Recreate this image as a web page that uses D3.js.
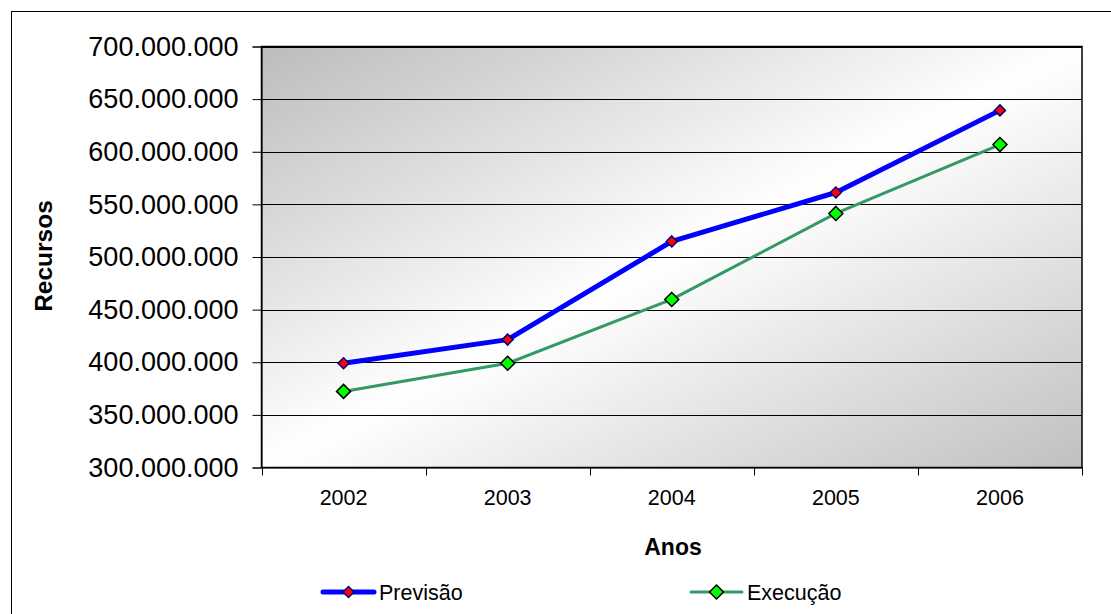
<!DOCTYPE html>
<html>
<head>
<meta charset="utf-8">
<script src="https://cdn.jsdelivr.net/npm/d3@7"></script>
<style>
  html, body { margin: 0; padding: 0; background: #fff; }
  svg { display: block; font-family: "Liberation Sans", Arial, sans-serif; }
</style>
</head>
<body>
<svg id="chart" width="1111" height="614"></svg>
<script>
// Anos (categorias do eixo X)
const anos = ["2002", "2003", "2004", "2005", "2006"];
// Recursos previstos e executados por ano
const previsao = [399000000, 421500000, 514800000, 561300000, 639300000];
const execucao = [372300000, 399000000, 459700000, 541400000, 606800000];
// Marcas do eixo Y
const yTicks = [300000000, 350000000, 400000000, 450000000, 500000000,
                550000000, 600000000, 650000000, 700000000];

const svg = d3.select("#chart");
const plot = { left: 261.5, right: 1082, top: 46.5, bottom: 467.5 };

const fmt = v => d3.format(",")(v).replace(/,/g, ".");

const x = d3.scaleBand().domain(anos).range([plot.left, plot.right]);
const y = d3.scaleLinear().domain([300000000, 700000000]).range([plot.bottom, plot.top]);

// Moldura externa
svg.append("rect")
  .attr("x", 11.5).attr("y", 11.5)
  .attr("width", 1140).attr("height", 640)
  .attr("fill", "none").attr("stroke", "#000").attr("stroke-width", 1);

// Fundo da área de plotagem em degradê diagonal
const defs = svg.append("defs");
const grad = defs.append("linearGradient")
  .attr("id", "fundo").attr("x1", "0").attr("y1", "0").attr("x2", "1").attr("y2", "1");
grad.append("stop").attr("offset", "0").attr("stop-color", "#bcbcbc");
grad.append("stop").attr("offset", "0.5").attr("stop-color", "#ffffff");
grad.append("stop").attr("offset", "1").attr("stop-color", "#c0c0c0");

svg.append("rect")
  .attr("x", plot.left).attr("y", plot.top)
  .attr("width", plot.right - plot.left).attr("height", plot.bottom - plot.top)
  .attr("fill", "url(#fundo)")
  .attr("stroke", "#000").attr("stroke-width", 1.5);

// Linhas de grade
svg.append("g").selectAll("line")
  .data(yTicks.slice(1))
  .join("line")
  .attr("x1", plot.left).attr("x2", plot.right)
  .attr("y1", d => Math.round(y(d)) + 0.5).attr("y2", d => Math.round(y(d)) + 0.5)
  .attr("stroke", "#000").attr("stroke-width", 1);

// Eixo Y
const yAxis = svg.append("g")
  .attr("transform", `translate(${plot.left},0)`)
  .call(d3.axisLeft(y).tickValues(yTicks).tickFormat(fmt).tickSize(9).tickPadding(14));
yAxis.select(".domain").attr("stroke", "#000");
yAxis.selectAll(".tick line").attr("stroke", "#000");
yAxis.selectAll(".tick text")
  .attr("font-size", 27).attr("fill", "#000")
  .attr("font-family", "Liberation Sans, Arial, sans-serif");

// Eixo X
const xAxis = svg.append("g")
  .attr("transform", `translate(0,${plot.bottom})`)
  .call(d3.axisBottom(x).tickSize(0).tickPadding(22));
xAxis.select(".domain").attr("stroke", "#000");
xAxis.selectAll(".tick text")
  .attr("font-size", 21.5).attr("fill", "#000")
  .attr("font-family", "Liberation Sans, Arial, sans-serif");
// Marcas entre as categorias
const bounds = anos.map(a => x(a)).concat([plot.right]);
svg.append("g").selectAll("line")
  .data(bounds)
  .join("line")
  .attr("x1", d => Math.round(d) + 0.5).attr("x2", d => Math.round(d) + 0.5)
  .attr("y1", plot.bottom).attr("y2", plot.bottom + 8)
  .attr("stroke", "#000");

// Títulos dos eixos
svg.append("text")
  .attr("x", 673).attr("y", 555)
  .attr("text-anchor", "middle")
  .attr("font-size", 23).attr("font-weight", "bold")
  .text("Anos");
svg.append("text")
  .attr("transform", "translate(52,256) rotate(-90)")
  .attr("text-anchor", "middle")
  .attr("font-size", 24.5).attr("font-weight", "bold")
  .text("Recursos");

const cx = d => x(d) + x.bandwidth() / 2;
const line = d3.line().x(d => cx(d.ano)).y(d => y(d.v));
const diamond = s => `M0,${-s}L${s},0L0,${s}L${-s},0Z`;

const series = [
  { nome: "Previsão", valores: previsao, cor: "#0000ff", largura: 5,
    marca: "#ff0000", borda: "#000080", tam: 5.5, legX: 323 },
  { nome: "Execução", valores: execucao, cor: "#339966", largura: 3,
    marca: "#00ff00", borda: "#000", tam: 7, legX: 691 }
];

series.forEach(s => {
  const pts = anos.map((a, i) => ({ ano: a, v: s.valores[i] }));
  svg.append("path")
    .datum(pts)
    .attr("d", line)
    .attr("fill", "none")
    .attr("stroke", s.cor).attr("stroke-width", s.largura)
    .attr("stroke-linejoin", "round");
  svg.append("g").selectAll("path")
    .data(pts)
    .join("path")
    .attr("transform", d => `translate(${cx(d.ano)},${y(d.v)})`)
    .attr("d", diamond(s.tam))
    .attr("fill", s.marca).attr("stroke", s.borda).attr("stroke-width", 1.5);
});

// Legenda
const legY = 592;
series.forEach(s => {
  const g = svg.append("g");
  g.append("line")
    .attr("x1", s.legX).attr("x2", s.legX + 51)
    .attr("y1", legY).attr("y2", legY)
    .attr("stroke", s.cor).attr("stroke-width", s.largura).attr("stroke-linecap", "round");
  g.append("path")
    .attr("transform", `translate(${s.legX + 25.5},${legY})`)
    .attr("d", diamond(s.tam))
    .attr("fill", s.marca).attr("stroke", s.borda).attr("stroke-width", 1.5);
  g.append("text")
    .attr("x", s.legX + 56).attr("y", legY + 7.5)
    .attr("font-size", 21.5)
    .text(s.nome);
});
</script>
</body>
</html>
